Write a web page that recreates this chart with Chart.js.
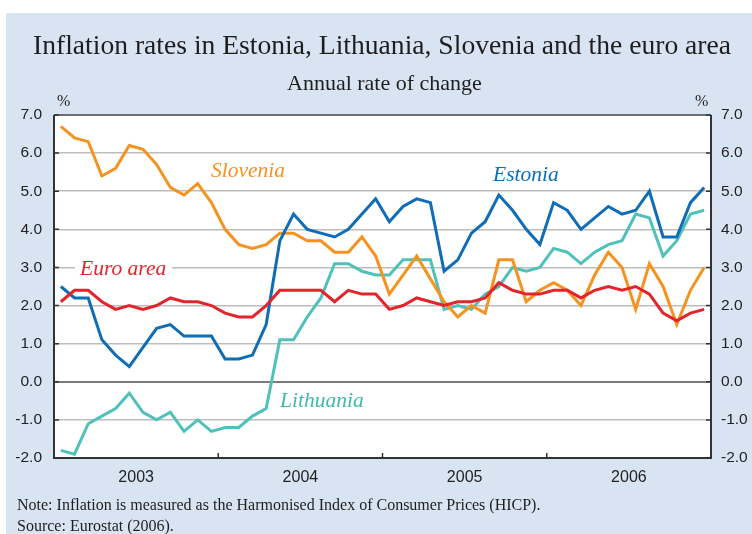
<!DOCTYPE html>
<html><head><meta charset="utf-8">
<script src="https://cdn.jsdelivr.net/npm/chart.js@4"></script>
<style>
body{margin:0;width:752px;height:534px;overflow:hidden;background:#fff;position:relative;font-family:"Liberation Serif","Times New Roman",serif;}
#bg{position:absolute;left:6px;top:13px;right:0;bottom:0;background:#d9e4f3;}
canvas{position:absolute;left:0;top:0;}
.t{position:absolute;white-space:nowrap;line-height:1;color:#1e1e1e;}
.lab{position:absolute;white-space:nowrap;line-height:1;font-style:italic;font-size:21.5px;}
</style></head><body>
<div id="bg"></div>
<canvas id="c" width="752" height="534"></canvas>
<div class="t" style="top:31px;left:33px;font-size:27.6px;">Inflation rates in Estonia, Lithuania, Slovenia and the euro area</div>
<div class="t" style="top:72px;left:287px;font-size:22px;">Annual rate of change</div>
<div class="t" style="top:93px;left:57px;font-size:16px;">%</div>
<div class="t" style="top:93px;left:695px;font-size:16px;">%</div>
<div class="t" style="top:497px;left:17px;font-size:16px;">Note: Inflation is measured as the Harmonised Index of Consumer Prices (HICP).</div>
<div class="t" style="top:518px;left:17px;font-size:16px;">Source: Eurostat (2006).</div>
<div class="lab" style="top:160px;left:211px;color:#f6921e;">Slovenia</div>
<div class="lab" style="top:164px;left:493px;color:#0f6cb6;">Estonia</div>
<div class="lab" style="top:258px;left:75px;padding:0 6px 0 5px;background:#fff;color:#e3242b;">Euro area</div>
<div class="lab" style="top:390px;left:280px;color:#3fb8b0;">Lithuania</div>
<script>
const years = ['2003','2004','2005','2006'];
const monthNames = ['Jan','Feb','Mar','Apr','May','Jun','Jul','Aug','Sep','Oct','Nov','Dec'];
const categories = years.flatMap(y => monthNames.map(m => m + ' ' + y));
const yTicks = [-2,-1,0,1,2,3,4,5,6,7];

const estonia = [2.5,2.2,2.2,1.1,0.7,0.4,0.9,1.4,1.5,1.2,1.2,1.2,
                 0.6,0.6,0.7,1.5,3.7,4.4,4.0,3.9,3.8,4.0,4.4,4.8,
                 4.2,4.6,4.8,4.7,2.9,3.2,3.9,4.2,4.9,4.5,4.0,3.6,
                 4.7,4.5,4.0,4.3,4.6,4.4,4.5,5.0,3.8,3.8,4.7,5.1];
const lithuania = [-1.8,-1.9,-1.1,-0.9,-0.7,-0.3,-0.8,-1.0,-0.8,-1.3,-1.0,-1.3,
                   -1.2,-1.2,-0.9,-0.7,1.1,1.1,1.7,2.2,3.1,3.1,2.9,2.8,
                   2.8,3.2,3.2,3.2,1.9,2.0,1.9,2.3,2.5,3.0,2.9,3.0,
                   3.5,3.4,3.1,3.4,3.6,3.7,4.4,4.3,3.3,3.7,4.4,4.5];
const slovenia = [6.7,6.4,6.3,5.4,5.6,6.2,6.1,5.7,5.1,4.9,5.2,4.7,
                  4.0,3.6,3.5,3.6,3.9,3.9,3.7,3.7,3.4,3.4,3.8,3.3,
                  2.3,2.8,3.3,2.7,2.1,1.7,2.0,1.8,3.2,3.2,2.1,2.4,
                  2.6,2.4,2.0,2.8,3.4,3.0,1.9,3.1,2.5,1.5,2.4,3.0];
const euroArea = [2.1,2.4,2.4,2.1,1.9,2.0,1.9,2.0,2.2,2.1,2.1,2.0,
                  1.8,1.7,1.7,2.0,2.4,2.4,2.4,2.4,2.1,2.4,2.3,2.3,
                  1.9,2.0,2.2,2.1,2.0,2.1,2.1,2.2,2.6,2.4,2.3,2.3,
                  2.4,2.4,2.2,2.4,2.5,2.4,2.5,2.3,1.8,1.6,1.8,1.9];

const pts = arr => arr.map((v,i) => ({x:i, y:v}));
const ds = (label, arr, color) => ({label, data: pts(arr), borderColor: color, backgroundColor: color,
  borderWidth: 3, pointRadius: 0, tension: 0, fill: false, borderJoinStyle: 'miter'});

const frame = {
  id: 'frame',
  beforeDraw(chart){
    const {ctx, chartArea:a} = chart;
    ctx.save(); ctx.fillStyle = '#fff';
    ctx.fillRect(a.left, a.top, a.right-a.left, a.bottom-a.top); ctx.restore();
  },
  afterDatasetsDraw(chart){
    const {ctx, chartArea:a, scales} = chart;
    ctx.save();
    ctx.lineWidth = 2;
    ctx.strokeStyle = '#6e6e6e';
    ctx.beginPath(); ctx.moveTo(a.left, a.top); ctx.lineTo(a.right, a.top); ctx.stroke();
    ctx.strokeStyle = '#333';
    ctx.beginPath(); ctx.moveTo(a.left, a.top); ctx.lineTo(a.left, a.bottom);
    ctx.lineTo(a.right, a.bottom); ctx.lineTo(a.right, a.top); ctx.stroke();
    ctx.lineWidth = 1.5;
    yTicks.forEach(v => {
      const py = scales.y.getPixelForValue(v);
      ctx.beginPath(); ctx.moveTo(a.left, py); ctx.lineTo(a.left+5, py);
      ctx.moveTo(a.right-5, py); ctx.lineTo(a.right, py); ctx.stroke();
    });
    for (let i = 1; i < years.length; i++) {
      const px = scales.x.getPixelForValue(i*12 - 0.5);
      ctx.beginPath(); ctx.moveTo(px, a.bottom); ctx.lineTo(px, a.bottom-5); ctx.stroke();
    }
    ctx.restore();
  }
};

new Chart(document.getElementById('c'), {
  type: 'line',
  data: {
    labels: categories,
    datasets: [
      ds('Euro area', euroArea, '#e3242b'),
      ds('Estonia', estonia, '#0f6cb6'),
      ds('Slovenia', slovenia, '#f6921e'),
      ds('Lithuania', lithuania, '#4fc1ba')
    ]
  },
  options: {
    responsive: false, animation: false, devicePixelRatio: 1,
    layout: {padding: {top: 115, left: 0, right: 0, bottom: 0}},
    plugins: {legend: {display: false}, tooltip: {enabled: false}, title: {display: false}},
    scales: {
      x: {
        type: 'linear', min: -0.5, max: 47.5,
        afterBuildTicks: s => { s.ticks = years.map((y,i) => ({value: i*12 + 5.5})); },
        ticks: {callback: (v,i) => years[i], font: {family: 'Liberation Sans', size: 16}, color: '#222',
                padding: 10, maxRotation: 0, autoSkip: false},
        grid: {display: false, drawTicks: false}, border: {display: false},
        afterFit: s => { s.height = 76; }
      },
      y: {
        position: 'left', min: -2, max: 7,
        afterBuildTicks: s => { s.ticks = yTicks.map(v => ({value: v})); },
        ticks: {callback: v => v.toFixed(1), font: {family: 'Liberation Sans', size: 15.5}, color: '#222', padding: 12},
        grid: {color: c => (c.tick && c.tick.value === 0) ? '#7a7a7a' : '#bdbdbd',
               lineWidth: c => (c.tick && c.tick.value === 0) ? 2 : 1.5, drawTicks: false},
        border: {display: false},
        afterFit: s => { s.width = 54; }
      },
      y2: {
        position: 'right', min: -2, max: 7,
        afterBuildTicks: s => { s.ticks = yTicks.map(v => ({value: v})); },
        ticks: {callback: v => v.toFixed(1), font: {family: 'Liberation Sans', size: 15.5}, color: '#222', padding: 10},
        grid: {display: false, drawTicks: false}, border: {display: false},
        afterFit: s => { s.width = 41; }
      }
    }
  },
  plugins: [frame]
});
</script>
</body></html>
